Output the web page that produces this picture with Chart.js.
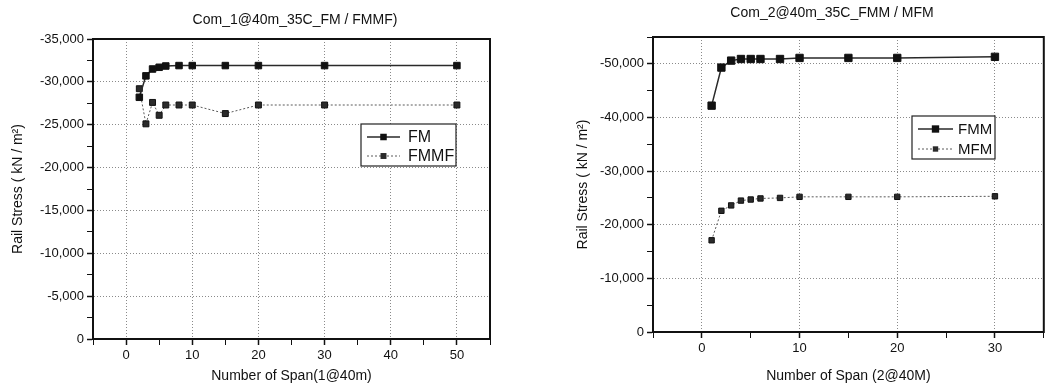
<!DOCTYPE html>
<html>
<head>
<meta charset="utf-8">
<script src="https://cdn.jsdelivr.net/npm/chart.js@4"></script>
<style>
  body { margin: 0; background: #fff; }
  .box { position: absolute; top: 0; width: 525px; height: 383px; }
</style>
</head>
<body>
<div class="box" style="left:0"><canvas id="chart1" width="525" height="383"></canvas></div>
<div class="box" style="left:525px"><canvas id="chart2" width="525" height="383"></canvas></div>
<script>
// left chart: Com_1@40m_35C
const spans1 = [2, 3, 4, 5, 6, 8, 10, 15, 20, 30, 50];
const fm = [-28200, -30700, -31500, -31700, -31850, -31900, -31900, -31900, -31900, -31900, -31900];
const fmmf = [-29200, -25100, -27600, -26100, -27300, -27300, -27300, -26300, -27300, -27300, -27300];
const xLabels1 = [0, 10, 20, 30, 40, 50];
const yLabels1 = [0, -5000, -10000, -15000, -20000, -25000, -30000, -35000];

// right chart: Com_2@40m_35C
const spans2 = [1, 2, 3, 4, 5, 6, 8, 10, 15, 20, 30];
const fmm = [-42200, -49300, -50600, -50900, -50900, -50900, -50900, -51100, -51100, -51100, -51300];
const mfm = [-17100, -22600, -23600, -24500, -24700, -24900, -25000, -25200, -25200, -25200, -25300];
const xLabels2 = [0, 10, 20, 30];
const yLabels2 = [0, -10000, -20000, -30000, -40000, -50000];

const FONT = "'Liberation Sans', Arial, sans-serif";
Chart.defaults.font.family = FONT;
Chart.defaults.color = "#111";

// major ticks from the label arrays, minor ticks half way between
function tickList(labels, min, max) {
    const step = Math.abs(labels[1] - labels[0]) / 2;
    const out = [];
    for (let v = min; v <= max + 1e-9; v += step) {
        const major = labels.some(l => Math.abs(l - v) < 1e-6);
        out.push({ value: v, minor: !major });
    }
    return out;
}

function axis(labels, min, max, opts) {
    return Object.assign({
        type: "linear",
        min: min,
        max: max,
        afterBuildTicks: s => { s.ticks = tickList(labels, min, max); },
        ticks: {
            autoSkip: false,
            maxRotation: 0,
            font: { size: 13 },
            color: "#111",
            padding: 3,
            callback: function (v, i, ticks) {
                return ticks[i].minor ? "" : Number(v).toLocaleString("en-US");
            }
        },
        grid: {
            color: c => (c.tick && !c.tick.minor ? "#8a8a8a" : "rgba(0,0,0,0)"),
            lineWidth: 1,
            tickColor: "#111",
            tickWidth: c => (c.tick && c.tick.minor ? 1 : 1.5),
            tickLength: 6
        },
        border: { display: true, color: "#111", width: 2, dash: [1, 2] }
    }, opts);
}

const frameAndLegend = {
    id: "frameAndLegend",
    afterDraw(chart, args, o) {
        const ctx = chart.ctx;
        const a = chart.chartArea;
        ctx.save();
        // plot frame
        ctx.strokeStyle = "#111";
        ctx.lineWidth = 2;
        ctx.strokeRect(a.left, a.top, a.right - a.left, a.bottom - a.top);
        // title
        ctx.fillStyle = "#111";
        ctx.font = "14px " + FONT;
        ctx.textAlign = "center";
        ctx.textBaseline = "middle";
        ctx.fillText(o.title, o.titleX, o.titleY);
        // legend box
        const b = o.box;
        ctx.lineWidth = 1.2;
        ctx.strokeStyle = "#222";
        ctx.fillStyle = "#fff";
        ctx.fillRect(b[0], b[1], b[2] - b[0], b[3] - b[1]);
        ctx.strokeRect(b[0], b[1], b[2] - b[0], b[3] - b[1]);
        chart.data.datasets.forEach((ds, i) => {
            const y = o.rows[i];
            ctx.strokeStyle = ds.borderColor;
            ctx.lineWidth = ds.borderWidth;
            ctx.setLineDash(ds.borderDash || []);
            ctx.beginPath();
            ctx.moveTo(o.sample[0], y);
            ctx.lineTo(o.sample[1], y);
            ctx.stroke();
            ctx.setLineDash([]);
            const s = ds.pointRadius * Math.SQRT1_2;
            const mx = (o.sample[0] + o.sample[1]) / 2;
            ctx.fillStyle = ds.pointBackgroundColor;
            ctx.fillRect(mx - s, y - s, 2 * s, 2 * s);
            ctx.fillStyle = "#111";
            ctx.font = o.legendSize + "px " + FONT;
            ctx.textAlign = "left";
            ctx.fillText(ds.label, o.textX, y + 1);
        });
        ctx.restore();
    }
};

function solid(label, xs, ys, r) {
    return {
        label: label,
        data: xs.map((x, i) => ({ x: x, y: ys[i] })),
        borderColor: "#2a2a2a",
        borderWidth: 1.5,
        pointStyle: "rect",
        pointRadius: r,
        pointBackgroundColor: "#111",
        pointBorderColor: "#111",
        pointBorderWidth: 1
    };
}

function dotted(label, xs, ys, r) {
    return {
        label: label,
        data: xs.map((x, i) => ({ x: x, y: ys[i] })),
        borderColor: "#5a5a5a",
        borderWidth: 1,
        borderDash: [2, 2],
        pointStyle: "rect",
        pointRadius: r,
        pointBackgroundColor: "#2b2b2b",
        pointBorderColor: "#111",
        pointBorderWidth: 1
    };
}

function yTitle(pad) {
    return {
        display: true,
        text: "Rail Stress ( kN / m\u00B2)",
        font: { size: 14, lineHeight: 1 },
        color: "#111",
        padding: { top: pad, bottom: 0 }
    };
}

function xTitle(text) {
    return {
        display: true,
        text: text,
        font: { size: 14, lineHeight: 1 },
        color: "#111",
        padding: { top: 0, bottom: 0 }
    };
}

new Chart(document.getElementById("chart1").getContext("2d"), {
    type: "line",
    data: {
        datasets: [
            solid("FM", spans1, fm, 4.6),
            dotted("FMMF", spans1, fmmf, 4.2)
        ]
    },
    options: {
        responsive: false,
        animation: false,
        devicePixelRatio: 1,
        layout: { padding: { top: 39, right: 35, bottom: 0, left: 0 } },
        plugins: {
            legend: { display: false },
            title: { display: false },
            tooltip: { enabled: false },
            frameAndLegend: {
                title: "Com_1@40m_35C_FM / FMMF)",
                titleX: 295, titleY: 20,
                box: [361, 124, 456, 166],
                rows: [137, 156],
                sample: [367, 400],
                textX: 408,
                legendSize: 16
            }
        },
        scales: {
            x: axis(xLabels1, -5, 55, {
                afterFit: s => { s.height = 44; },
                title: xTitle("Number of Span(1@40m)")
            }),
            y: axis(yLabels1, -35000, 0, {
                reverse: true,
                afterFit: s => { s.width = 93; },
                title: yTitle(11)
            })
        }
    },
    plugins: [frameAndLegend]
});

new Chart(document.getElementById("chart2").getContext("2d"), {
    type: "line",
    data: {
        datasets: [
            solid("FMM", spans2, fmm, 5.2),
            dotted("MFM", spans2, mfm, 3.8)
        ]
    },
    options: {
        responsive: false,
        animation: false,
        devicePixelRatio: 1,
        layout: { padding: { top: 37, right: 2, bottom: 0, left: 0 } },
        plugins: {
            legend: { display: false },
            title: { display: false },
            tooltip: { enabled: false },
            frameAndLegend: {
                title: "Com_2@40m_35C_FMM / MFM",
                titleX: 307, titleY: 13,
                box: [387, 116, 470, 159],
                rows: [129, 149],
                sample: [393, 428],
                textX: 433,
                legendSize: 15
            }
        },
        scales: {
            x: axis(xLabels2, -5, 35, {
                afterFit: s => { s.height = 51; },
                title: xTitle("Number of Span (2@40M)")
            }),
            y: axis(yLabels2, -55000, 0, {
                reverse: true,
                afterFit: s => { s.width = 128; },
                title: yTitle(51)
            })
        }
    },
    plugins: [frameAndLegend]
});
</script>
</body>
</html>
